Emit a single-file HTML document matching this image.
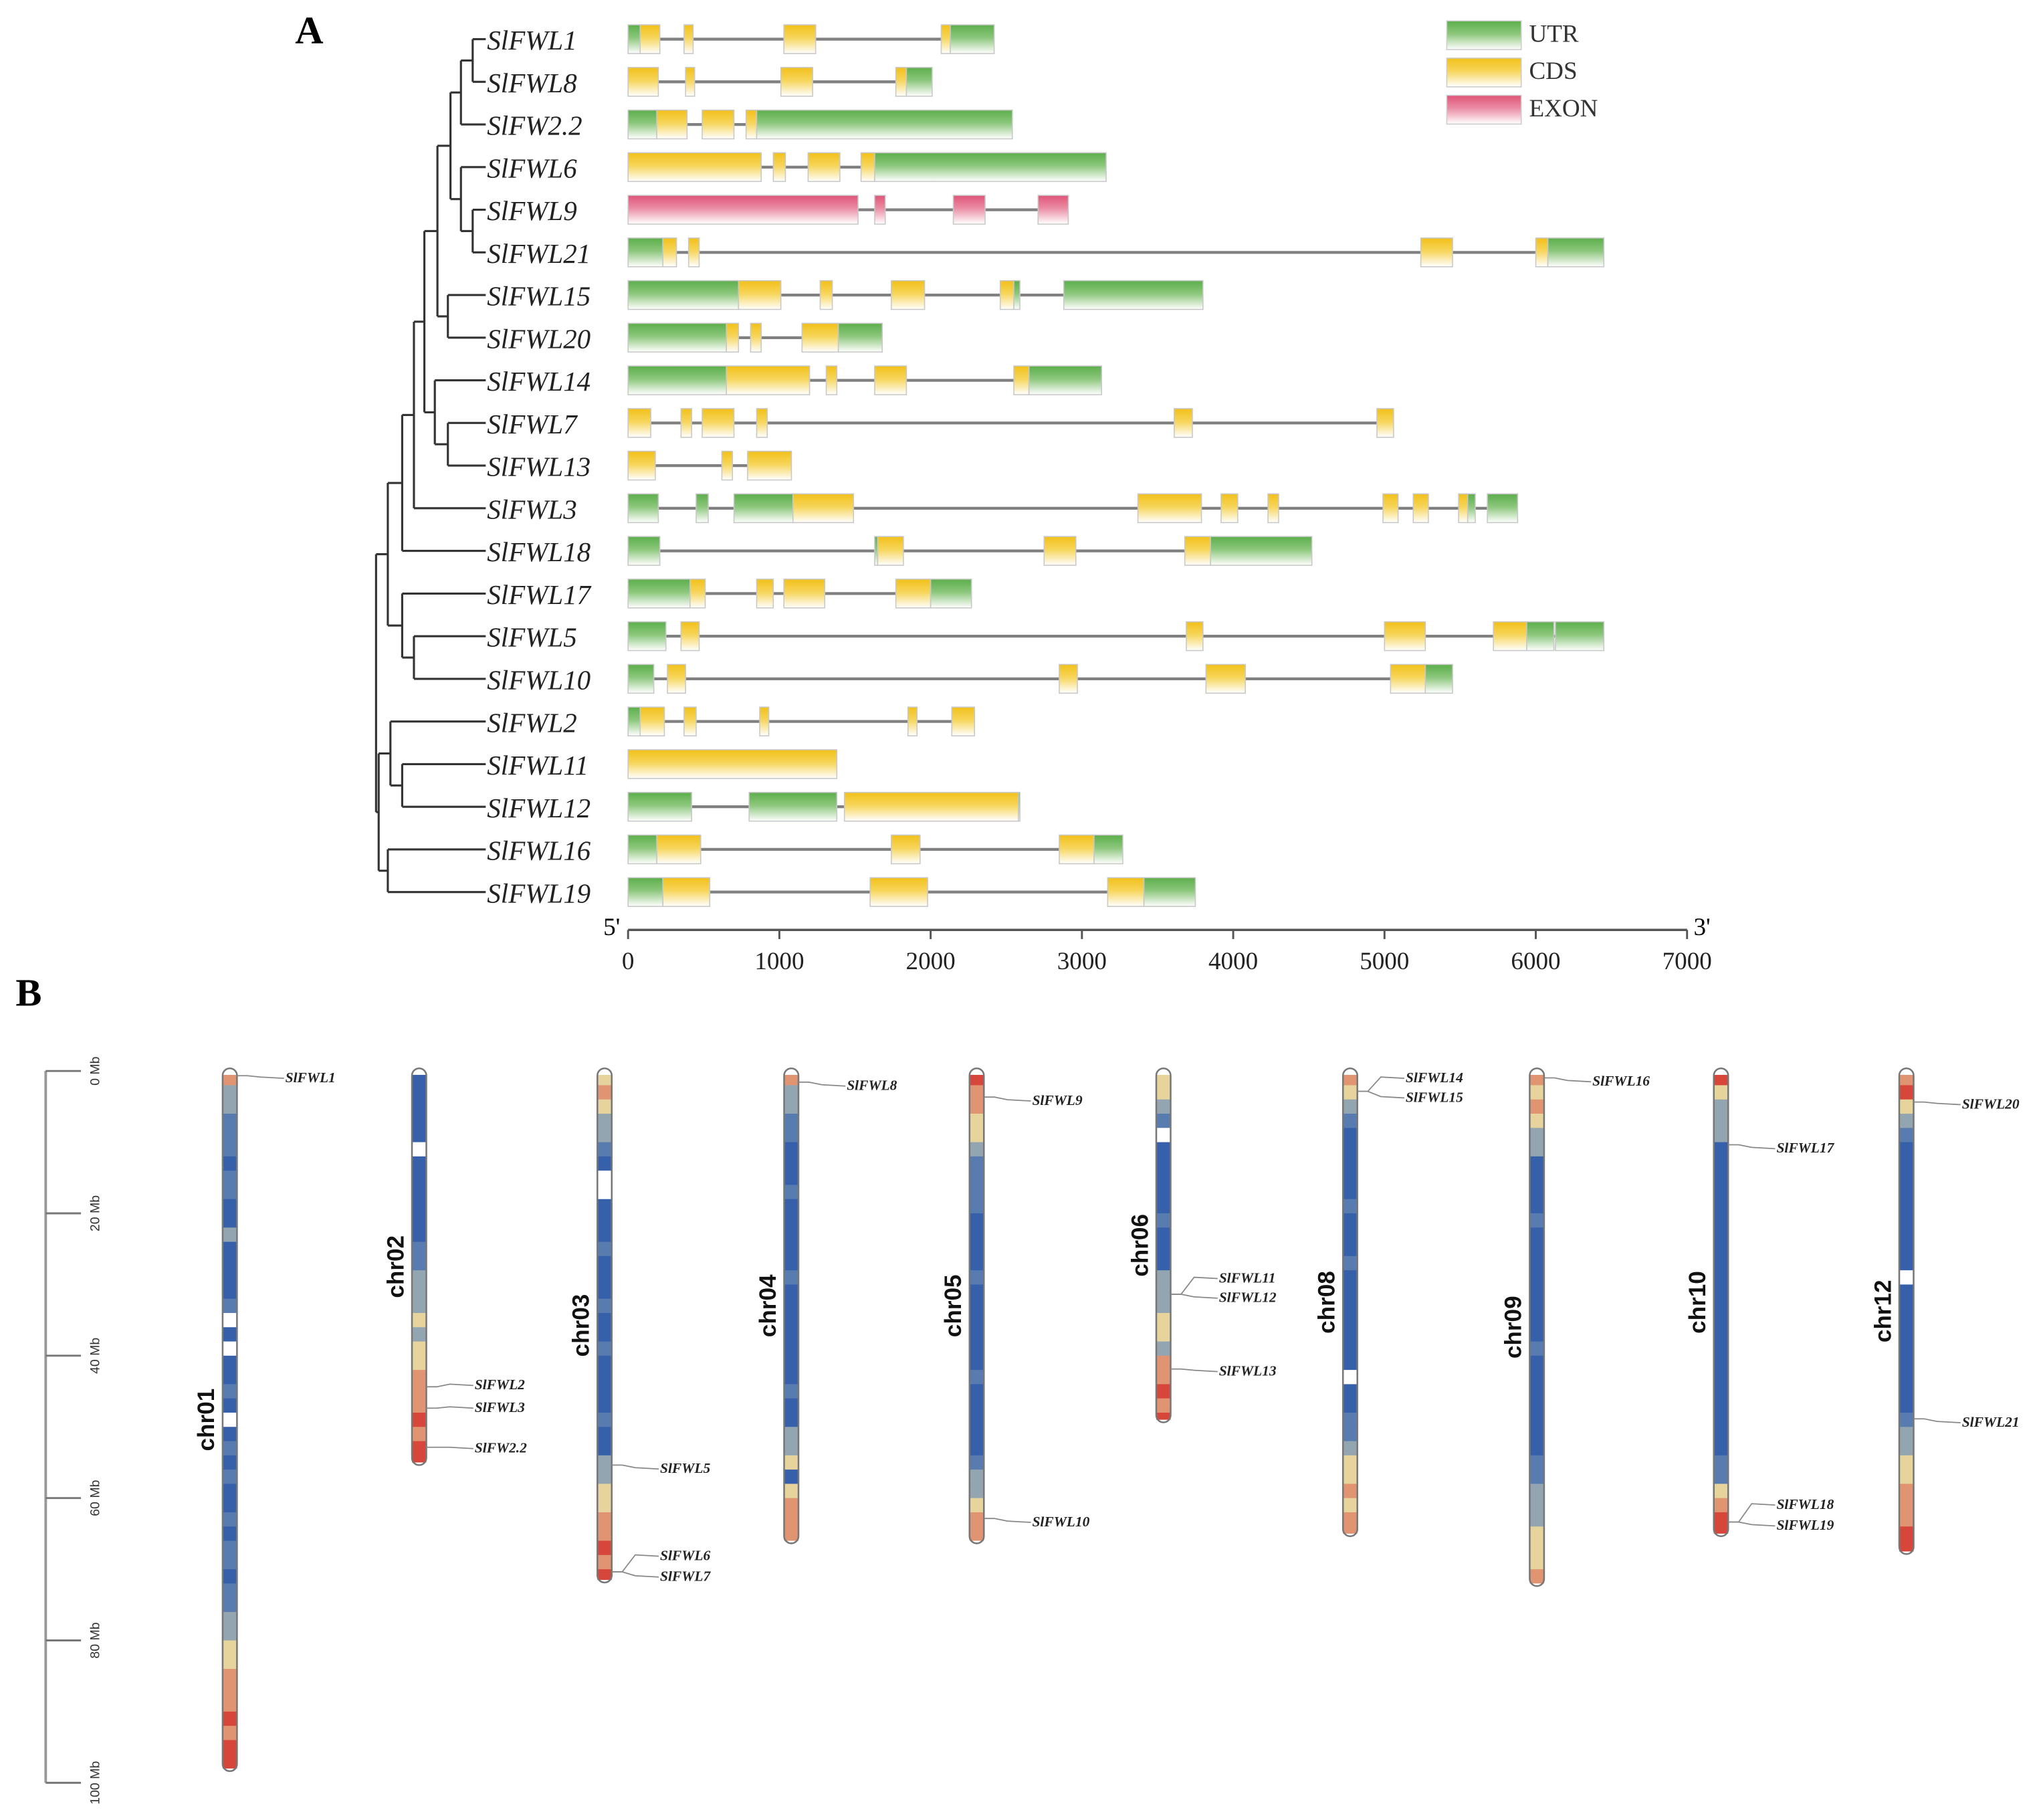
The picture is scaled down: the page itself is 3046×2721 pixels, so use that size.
<!DOCTYPE html>
<html><head><meta charset="utf-8">
<style>
html,body{margin:0;padding:0;background:#fff;}
svg{display:block;}
</style></head>
<body>
<svg id="fig" xmlns="http://www.w3.org/2000/svg" width="3046" height="2721" viewBox="0 0 1560 1393.5" preserveAspectRatio="none">
<defs>
<linearGradient id="gUTR" x1="0" y1="0" x2="0" y2="1"><stop offset="0" stop-color="#5cae4c"/><stop offset="0.45" stop-color="#8cc77c"/><stop offset="1" stop-color="#ffffff"/></linearGradient>
<linearGradient id="gCDS" x1="0" y1="0" x2="0" y2="1"><stop offset="0" stop-color="#f2c01a"/><stop offset="0.45" stop-color="#f6d55a"/><stop offset="1" stop-color="#ffffff"/></linearGradient>
<linearGradient id="gEXON" x1="0" y1="0" x2="0" y2="1"><stop offset="0" stop-color="#df5478"/><stop offset="0.45" stop-color="#ea8da4"/><stop offset="1" stop-color="#ffffff"/></linearGradient>
</defs>
<g id="panelA"></g>
<g id="panelB"></g>
</svg>
<script>
// ===== Panel A data =====
const geneNames = ["SlFWL1","SlFWL8","SlFW2.2","SlFWL6","SlFWL9","SlFWL21","SlFWL15","SlFWL20","SlFWL14","SlFWL7","SlFWL13","SlFWL3","SlFWL18","SlFWL17","SlFWL5","SlFWL10","SlFWL2","SlFWL11","SlFWL12","SlFWL16","SlFWL19"];
const geneLengths = [2420,2010,2540,3160,2910,6450,3800,1680,3130,5060,1080,5880,4520,2270,6450,5450,2290,1380,2590,3270,3750];
// features: [type, start, end]
const geneFeatures = [
 [["U",0,80],["C",80,210],["C",370,430],["C",1030,1240],["C",2070,2130],["U",2130,2420]],
 [["C",0,200],["C",380,440],["C",1010,1220],["C",1770,1840],["U",1840,2010]],
 [["U",0,190],["C",190,390],["C",490,700],["C",780,850],["U",850,2540]],
 [["C",0,880],["C",960,1040],["C",1190,1400],["C",1540,1630],["U",1630,3160]],
 [["E",0,1520],["E",1630,1700],["E",2150,2360],["E",2710,2910]],
 [["U",0,230],["C",230,320],["C",400,470],["C",5240,5450],["C",6000,6080],["U",6080,6450]],
 [["U",0,730],["C",730,1010],["C",1270,1350],["C",1740,1960],["C",2460,2550],["U",2550,2590],["U",2880,3800]],
 [["U",0,650],["C",650,730],["C",810,880],["C",1150,1390],["U",1390,1680]],
 [["U",0,650],["C",650,1200],["C",1310,1380],["C",1630,1840],["C",2550,2650],["U",2650,3130]],
 [["C",0,150],["C",350,420],["C",490,700],["C",850,920],["C",3610,3730],["C",4950,5060]],
 [["C",0,180],["C",620,690],["C",790,1080]],
 [["U",0,200],["U",450,530],["U",700,1090],["C",1090,1490],["C",3370,3790],["C",3920,4030],["C",4230,4300],["C",4990,5090],["C",5190,5290],["C",5490,5550],["U",5550,5600],["U",5680,5880]],
 [["U",0,210],["U",1630,1650],["C",1650,1820],["C",2750,2960],["C",3680,3850],["U",3850,4520]],
 [["U",0,410],["C",410,510],["C",850,960],["C",1030,1300],["C",1770,2000],["U",2000,2270]],
 [["U",0,250],["C",350,470],["C",3690,3800],["C",5000,5270],["C",5720,5940],["U",5940,6120],["U",6130,6450]],
 [["U",0,170],["C",260,380],["C",2850,2970],["C",3820,4080],["C",5040,5270],["U",5270,5450]],
 [["U",0,80],["C",80,240],["C",370,450],["C",870,930],["C",1850,1910],["C",2140,2290]],
 [["C",0,1380]],
 [["U",0,420],["U",800,1380],["C",1430,2580],["U",2580,2590]],
 [["U",0,190],["C",190,480],["C",1740,1930],["C",2850,3080],["U",3080,3270]],
 [["U",0,230],["C",230,540],["C",1600,1980],["C",3170,3410],["U",3410,3750]]
];
const axisTicks = [0,1000,2000,3000,4000,5000,6000,7000];
const legendLabels = ["UTR","CDS","EXON"];
// tree: [nodeX, childA, childB]; numbers are leaf indices
const tree = [288,
  [297,
    [308,[317,[325,[335,[345,[353,[362,0,1],2],[353,3,[362,4,5]]],[343,6,7]],[333,8,[343,9,10]]],11],12],
    [308,13,[317,14,15]]],
  [290,[299,16,[308,17,18]],[297,19,20]]];

// ===== Panel B data =====
const chrNames = ["chr01","chr02","chr03","chr04","chr05","chr06","chr08","chr09","chr10","chr12"];
const chrLengthsMb = [98,55,71.5,66,66,49,65,72,65,67.5];
// density class per 2 Mb bin: 0 blue .. 5 red ; g = gap
const chrDensity = [
 "4221110110"+"0200001g0g"+"0010g01010"+"0101101122"+"334445455",
 "00000g000000112223"+"2334445455",
 "3432210gg"+"000100010010000100"+"223344545",
 "42211"+"00010000010000000100"+"22"+"3"+"0"+"3444",
 "5443321111"+"0000100000"+"0100000122"+"344",
 "3321g"+"000001000"+"222"+"332"+"44545",
 "4321"+"00000100010000000"+"g"+"001"+"12"+"334344",
 "434322"+"0000100000000100000001"+"12223334",
 "53222"+"000000000000000000000011"+"3455",
 "4532"+"1000000000"+"g"+"0000000001"+"22"+"3344455"
];
const scaleTicksMb = [0,20,40,60,80,100];
const markerGenes = [["SlFWL1",0,0.3,0],["SlFWL2",1,44,-3],["SlFWL3",1,47,-2],["SlFW2.2",1,52.5,-1],
 ["SlFWL5",2,55,1],["SlFWL6",2,70,-14],["SlFWL7",2,70,2],["SlFWL8",3,1.2,1],["SlFWL9",4,3.3,1],["SlFWL10",4,62.5,1],
 ["SlFWL11",5,31,-14],["SlFWL12",5,31,1],["SlFWL13",5,41.5,0],["SlFWL14",6,2.5,-12],["SlFWL15",6,2.5,3],
 ["SlFWL16",7,0.6,1],["SlFWL17",8,10,1],["SlFWL18",8,63,-15],["SlFWL19",8,63,1],["SlFWL20",9,4,0],["SlFWL21",9,48.5,1]];

const NS="http://www.w3.org/2000/svg";
function mk(tag, attrs, parent){const e=document.createElementNS(NS,tag);for(const k in attrs)e.setAttribute(k,attrs[k]);parent.appendChild(e);return e;}
const A=document.getElementById('panelA'), B=document.getElementById('panelB');

const x0=481, x1=1292;
const xA = bp => x0 + bp*(x1-x0)/7000;
const rowY = i => 30 + i*32.65;

let t=mk('text',{x:226,y:33,'font-family':'Liberation Serif, serif','font-weight':'bold','font-size':30},A);t.textContent='A';



function drawTree(node){
  if(typeof node==='number') return rowY(node);
  const [nx,a,b]=node;
  const ya=drawTree(a), yb=drawTree(b);
  [[a,ya],[b,yb]].forEach(([c,cy])=>{
    const cx = typeof c==='number'? 372 : c[0];
    const l=mk('line',{x1:nx,y1:cy,x2:cx,y2:cy,stroke:'#333','stroke-width':1.6},A);
    
    
  });
  const v=mk('line',{x1:nx,y1:ya,x2:nx,y2:yb,stroke:'#333','stroke-width':1.6},A);
  
  
  return (ya+yb)/2;
}
drawTree(tree);

const fillOf={U:'url(#gUTR)',C:'url(#gCDS)',E:'url(#gEXON)'};
geneNames.forEach((name,i)=>{
  const y=rowY(i);
  const g=mk('g',{},A);
  
  
  const lab=mk('text',{x:373,y:y+8,'font-family':'Liberation Serif, serif','font-style':'italic','font-size':21,fill:'#222'},g);
  lab.textContent=name;
  
  
  const ln=mk('line',{x1:xA(0),y1:y,x2:xA(geneLengths[i]),y2:y,stroke:'#808080','stroke-width':2.2},g);
  
  
  geneFeatures[i].forEach(f=>{
    const r=mk('rect',{x:xA(f[1]),y:y-11,width:Math.max(1,xA(f[2])-xA(f[1])),height:22,fill:fillOf[f[0]],stroke:'#c8c8c8','stroke-width':0.8},g);
    
    
  });
});
const ax=mk('line',{x1:x0,y1:712,x2:x1,y2:712,stroke:'#555','stroke-width':1.8},A);


axisTicks.forEach(v=>{
  const tk=mk('line',{x1:xA(v),y1:712,x2:xA(v),y2:719,stroke:'#555','stroke-width':1.5},A);
  
  
  const tl=mk('text',{x:xA(v),y:742,'text-anchor':'middle','font-family':'Liberation Serif, serif','font-size':19,fill:'#222'},A);
  tl.textContent=v;
  
  
});
t=mk('text',{x:462,y:716,'font-family':'Liberation Serif, serif','font-size':19},A);t.textContent="5'";


t=mk('text',{x:1297,y:716,'font-family':'Liberation Serif, serif','font-size':19},A);t.textContent="3'";


['gUTR','gCDS','gEXON'].forEach((gid,i)=>{
  const r=mk('rect',{x:1108,y:16+i*28.5,width:57,height:22,fill:'url(#'+gid+')',stroke:'#ccc','stroke-width':0.8},A);
  
  
  const tx=mk('text',{x:1171,y:32+i*28.5,'font-family':'Liberation Serif, serif','font-size':19,fill:'#333'},A);
  tx.textContent=legendLabels[i];
  
  
});

// ===== Panel B =====
const yTop=820, pxPerMb=5.45;
const yB = mb => yTop + mb*pxPerMb;
const chrX = [176,321,463,606,748,891,1034,1177,1318,1460];
const colors=['#3660aa','#587bb0','#93a5b0','#e6d49c','#e09472','#d6463a'];
t=mk('text',{x:12,y:770,'font-family':'Liberation Serif, serif','font-weight':'bold','font-size':30},B);t.textContent='B';


const sc=mk('line',{x1:35,y1:yB(0),x2:35,y2:yB(100),stroke:'#999','stroke-width':2},B);


scaleTicksMb.forEach(v=>{
  const l=mk('line',{x1:35,y1:yB(v),x2:62,y2:yB(v),stroke:'#777','stroke-width':1.5},B);
  
  
  const tx=mk('text',{x:0,y:0,transform:`translate(76,${yB(v)}) rotate(-90)`,'text-anchor':'middle','font-family':'Liberation Sans, sans-serif','font-size':10,fill:'#333'},B);
  tx.textContent=v+' Mb';
  
  
});
chrNames.forEach((cn,i)=>{
  const cx=chrX[i], w=11, len=chrLengthsMb[i];
  const g=mk('g',{},B);
  
  
  const dens=chrDensity[i];
  const nb=Math.ceil(len/2);
  for(let k=0;k<nb;k++){
    const c=dens[Math.min(k,dens.length-1)];
    const s=k*2, e=Math.min(len,(k+1)*2);
    const y1=Math.max(yB(s),yB(0)+3), y2=Math.min(yB(e)+0.6,yB(len));
    const r=mk('rect',{x:cx-w/2,y:y1,width:w,height:Math.max(0,y2-y1),fill:c==='g'?'#ffffff':colors[+c]},g);
    
    
  }
  const o=mk('rect',{x:cx-w/2,y:yB(0)-2,width:w,height:yB(len)-yB(0)+4,rx:5.5,ry:5.5,fill:'none',stroke:'#777','stroke-width':1.3},g);
  
  
  const lab=mk('text',{x:0,y:0,transform:`translate(${cx-12},${(yB(0)+yB(len))/2}) rotate(-90)`,'text-anchor':'middle','font-family':'Liberation Sans, sans-serif','font-weight':'bold','font-size':18,fill:'#111'},g);
  lab.textContent=cn;
  
  
});
markerGenes.forEach(m=>{
  const [name,ci,mb,dy]=m;
  const cx=chrX[ci]+5.5, y=yB(mb)+2;
  const ly=y+dy+1;
  const p=mk('polyline',{points:`${cx},${y} ${cx+8},${y} ${cx+18},${ly} ${cx+36},${ly+1}`,fill:'none',stroke:'#888','stroke-width':0.9},B);
  
  
  const tx=mk('text',{x:cx+37,y:ly+4,'font-family':'Liberation Serif, serif','font-style':'italic','font-weight':'bold','font-size':11,fill:'#222'},B);
  tx.textContent=name;
  
  
});
</script>
</body></html>
